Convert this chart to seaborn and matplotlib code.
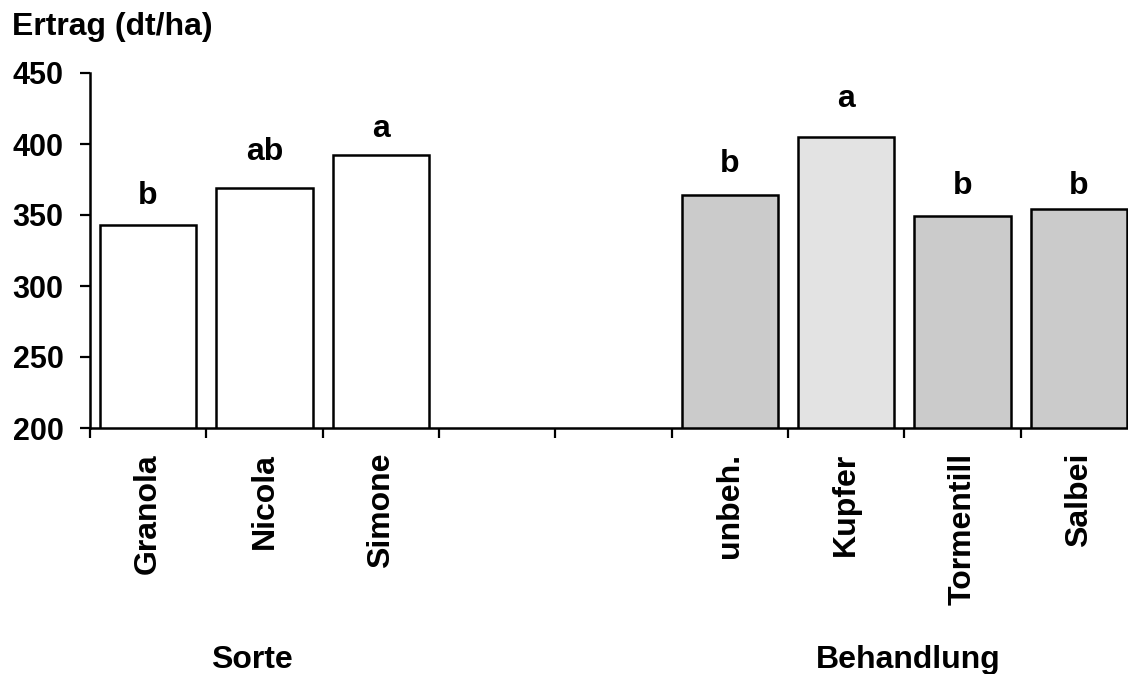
import numpy as np
import pandas as pd
import matplotlib
matplotlib.use("Agg")
import matplotlib.pyplot as plt
import seaborn as sns

# I keep the plain white look of the original chart
sns.set_theme(style="white")
plt.rcParams['font.family'] = ['Liberation Sans', 'DejaVu Sans']
plt.rcParams['font.weight'] = 'bold'
plt.rcParams['text.color'] = 'black'
plt.rcParams['xtick.color'] = 'black'
plt.rcParams['ytick.color'] = 'black'

# 1. DATA
sorte = ['Granola', 'Nicola', 'Simone']
sorte_ertrag = [343, 369, 392]
sorte_letters = ['b', 'ab', 'a']
sorte_letter_y = [358, 389, 405]

behandlung = ['unbeh.', 'Kupfer', 'Tormentill', 'Salbei']
behandlung_ertrag = [364, 405, 349, 354]
behandlung_letters = ['b', 'a', 'b', 'b']
behandlung_letter_y = [380, 426, 365, 365]

gaps = ['_gap1', '_gap2']
y_ticks = [200, 250, 300, 350, 400, 450]

categories = sorte + behandlung
values = sorte_ertrag + behandlung_ertrag
letters = sorte_letters + behandlung_letters
letter_y = sorte_letter_y + behandlung_letter_y
order = sorte + gaps + behandlung

df = pd.DataFrame({'Kategorie': categories, 'Ertrag': values})

# Bar colours: white for the varieties, light grey (stipple look) for the treatments
palette = {c: 'white' for c in sorte}
palette.update({'unbeh.': '#cbcbcb', 'Kupfer': '#e3e3e3',
                'Tormentill': '#cbcbcb', 'Salbei': '#cbcbcb'})

FS = 23

# 2. FIGURE
fig = plt.figure(figsize=(11.28, 6.74), dpi=100)
# the axes run past the right edge, like in the cropped original
ax = fig.add_axes([90 / 1128, 1 - 428 / 674, 1047 / 1128, 355 / 674])

sns.barplot(data=df, x='Kategorie', y='Ertrag', hue='Kategorie', order=order,
            palette=palette, legend=False, width=0.83, edgecolor='black',
            linewidth=1.8, ax=ax)

ax.set_ylim(200, 450)
ax.set_xlim(-0.5, len(order) - 0.5)
ax.set_yticks(y_ticks)
ax.set_yticklabels([str(t) for t in y_ticks], fontsize=22, fontweight='bold')

# category labels vertical, ticks only between the slots
ax.set_xticks(range(len(order)))
ax.set_xticklabels([c if not c.startswith('_') else '' for c in order],
                   rotation=90, fontsize=FS, fontweight='bold', va='top')
ax.set_xticks(np.arange(-0.5, len(order), 1), minor=True)
ax.tick_params(axis='x', which='major', length=0, pad=18)
ax.tick_params(axis='x', which='minor', length=7, width=1.6, direction='out', bottom=True)
ax.tick_params(axis='y', length=7, width=1.6, direction='out', pad=12, left=True)
ax.set_xlabel('')
ax.set_ylabel('')

for side in ['top', 'right']:
    ax.spines[side].set_visible(False)
for side in ['left', 'bottom']:
    ax.spines[side].set_linewidth(1.8)
    ax.spines[side].set_color('black')

# significance letters above the bars
for cat, let, ly in zip(categories, letters, letter_y):
    ax.text(order.index(cat), ly, let, ha='center', va='baseline',
            fontsize=FS, fontweight='bold')

# axis title and group names
fig.text(12 / 1128, 1 - 35 / 674, 'Ertrag (dt/ha)', ha='left', va='baseline',
         fontsize=FS, fontweight='bold')
fig.text(252 / 1128, 1 - 668 / 674, 'Sorte', ha='center', va='baseline',
         fontsize=FS, fontweight='bold')
fig.text(908 / 1128, 1 - 668 / 674, 'Behandlung', ha='center', va='baseline',
         fontsize=FS, fontweight='bold')

plt.savefig('out.png', dpi=100)
plt.close()
